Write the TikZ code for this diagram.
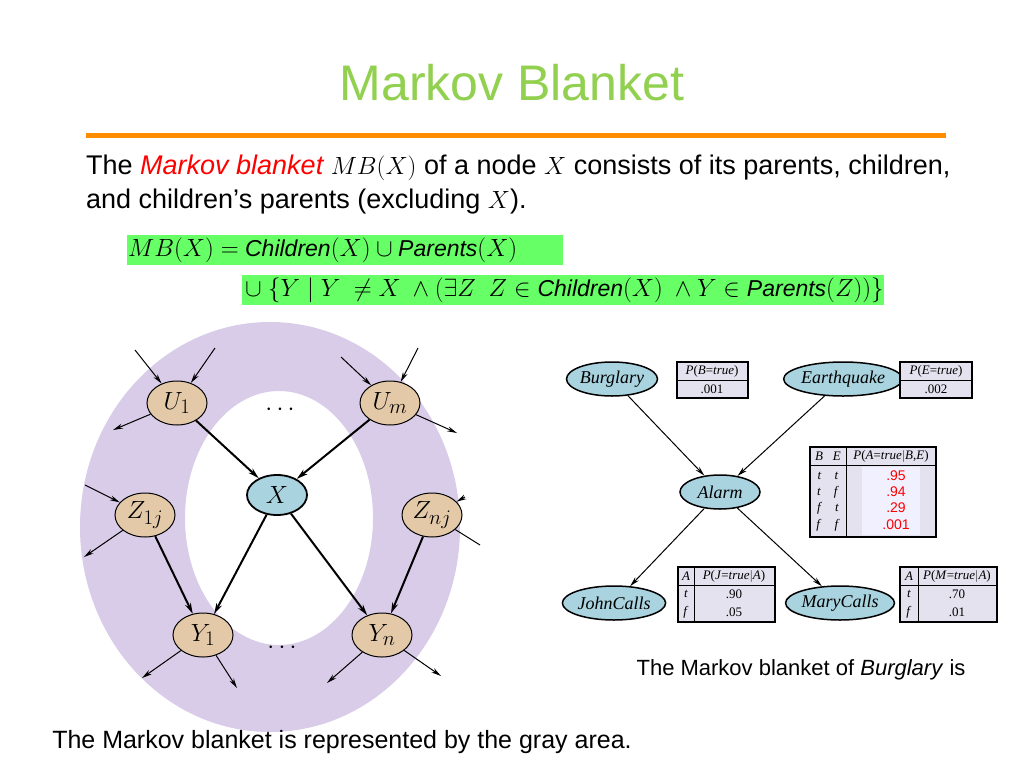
\documentclass[tikz,border=0pt]{standalone}
\usepackage{fontspec}
\setmainfont{Liberation Sans}
\newfontfamily\tnr{Liberation Serif}
\usetikzlibrary{shapes.geometric,arrows.meta}
\definecolor{titlegreen}{HTML}{92D050}
\definecolor{ring}{HTML}{D9CCE8}
\definecolor{tan}{HTML}{E3C9A8}
\definecolor{lblue}{HTML}{A9D3DF}
\definecolor{hl}{HTML}{66FF66}
\definecolor{tabbg}{HTML}{E4E2EE}
\begin{document}
\begin{tikzpicture}[x=1pt,y=-1pt,
  lnode/.style={ellipse,draw,line width=1pt,fill=tan,minimum width=60pt,minimum height=44pt,inner sep=0pt,font=\fontsize{30}{30}\selectfont},
  rnode/.style={ellipse,draw,line width=1.5pt,fill=lblue,minimum width=80pt,minimum height=34pt,inner sep=0pt,font=\tnr\itshape\fontsize{18}{18}\selectfont},
  arr/.style={-{Stealth[length=11pt,width=6pt]},line width=2pt},
  tarr/.style={-{Stealth[length=10pt,width=5pt]},line width=1pt},
  tab/.style={draw,line width=2pt,fill=tabbg},
  tt/.style={font=\tnr\fontsize{13}{13}\selectfont,inner sep=0pt}]
\useasboundingbox (0,0) rectangle (1024,768);
\fill[white] (0,0) rectangle (1024,768);
\node[text=titlegreen,font=\fontsize{50}{50}\selectfont] (title) at (512,83) {Markov Blanket};
\draw[line width=5pt,orange!90!yellow] (86,135) -- (946,135);
\node[anchor=west,font=\fontsize{27}{27}\selectfont,inner sep=0pt] (l1) at (86,168) {The \textcolor{red}{\itshape Markov blanket} $MB(X)$ of a node $X$ consists of its parents, children,};
\node[anchor=west,font=\fontsize{27}{27}\selectfont,inner sep=0pt] (l2) at (86,202) {and children's parents (excluding $X$).};
\fill[hl] (127,235) rectangle (563,265);
\fill[hl] (242,275) rectangle (884,305);
\node[anchor=west,font=\fontsize{23}{23}\selectfont,inner sep=0pt] (f1) at (128,250) {$MB(X) = $ \textit{Children}$(X) \cup{}$\textit{Parents}$(X)$};
\node[anchor=west,font=\fontsize{23}{23}\selectfont,inner sep=0pt] (f2) at (245,290) {$\cup\ \{Y\mid Y\ \neq X\ \wedge (\exists Z\ \ Z\in{}$\textit{Children}$(X)\ \wedge Y\in{}$\textit{Parents}$(Z))\}$};
\fill[ring,even odd rule] (270,527) ellipse [x radius=190,y radius=205] (279,518) ellipse [x radius=94,y radius=127];
\node[lnode] (U1) at (177,403) {$U_1$};
\node[lnode] (Um) at (390,403) {$U_m$};
\node[lnode,fill=lblue,line width=1.8pt,minimum height=40pt] (X) at (277,495) {$X$};
\node[lnode] (Z1) at (145,515) {$Z_{1j}$};
\node[lnode] (Zn) at (432,515) {$Z_{nj}$};
\node[lnode] (Y1) at (203,635) {$Y_1$};
\node[lnode] (Yn) at (382,635) {$Y_n$};
\node[font=\fontsize{24}{24}\selectfont] (d1) at (280,410) {$\cdots$};
\node[font=\fontsize{24}{24}\selectfont] (d2) at (282,648) {$\cdots$};
\draw[arr] (U1) -- (X); \draw[arr] (Um) -- (X);
\draw[arr] (X) -- (Y1); \draw[arr] (X) -- (Yn);
\draw[arr] (Z1) -- (Y1); \draw[arr] (Zn) -- (Yn);
\coordinate (a1) at (135,350); \coordinate (a2) at (215,348);
\coordinate (a3) at (113,430); \coordinate (a4) at (341,357);
\coordinate (a5) at (418,348); \coordinate (a6) at (457,433);
\coordinate (a7) at (85,485); \coordinate (a8) at (84,557);
\coordinate (a9) at (465,497); \coordinate (a10) at (480,545);
\coordinate (a11) at (142,678); \coordinate (a12) at (237,688);
\coordinate (a13) at (327,683); \coordinate (a14) at (441,676);
\draw[tarr] (a1) -- (U1); \draw[tarr] (a2) -- (U1); \draw[tarr] (U1) -- (a3);
\draw[tarr] (a4) -- (Um); \draw[tarr] (a5) -- (Um); \draw[tarr] (Um) -- (a6);
\draw[tarr] (a7) -- (Z1); \draw[tarr] (Z1) -- (a8);
\draw[tarr] (a9) -- (Zn); \draw[line width=1pt] (Zn) -- (a10);
\draw[tarr] (Y1) -- (a11); \draw[tarr] (Y1) -- (a12);
\draw[tarr] (Yn) -- (a13); \draw[tarr] (Yn) -- (a14);
\node[rnode] (B) at (612,379) {Burglary};
\node[rnode,minimum width=92pt] (E) at (843,379) {Earthquake};
\node[rnode] (A) at (720,492) {Alarm};
\node[rnode,minimum width=82pt] (J) at (614,603) {JohnCalls};
\node[rnode,minimum width=84pt] (M) at (840,603) {MaryCalls};
\draw[tarr] (B) -- (A); \draw[tarr] (E) -- (A);
\draw[tarr] (A) -- (J); \draw[tarr] (A) -- (M);
\draw[tab] (677,362) rectangle (748,398); \draw (677,380) -- (748,380);
\node[tt] (tb1) at (712,371) {\textit{P}(\textit{B}=\textit{true})};
\node[tt] (tb2) at (712,389) {.001};
\draw[tab] (900,362) rectangle (972,398); \draw (900,380) -- (972,380);
\node[tt] (te1) at (936,371) {\textit{P}(\textit{E}=\textit{true})};
\node[tt] (te2) at (936,389) {.002};
\draw[tab] (810,447) rectangle (936,537); \draw (810,465) -- (936,465); \draw (846,447) -- (846,537);
\node[tt] (ta0) at (828,456) {\textit{B}\ \ \ \textit{E}};
\node[tt] (ta1) at (891,456) {\textit{P}(\textit{A}=\textit{true}$|$\textit{B},\textit{E})};
\fill[blue!6] (862,467) rectangle (920,535);
\foreach \y/\b/\e/\v in {476/t/t/.95,492/t/f/.94,508/f/t/.29,525/f/f/.001}{
  \node[tt] at (828,\y) {\textit{\b}\ \ \ \ \textit{\e}};
  \node[tt,text=red,font=\fontsize{14}{14}\selectfont] at (896,\y) {\v};}
\draw[tab] (678,567) rectangle (775,622); \draw (678,585) -- (775,585); \draw (694,567) -- (694,622);
\node[tt] (tj0) at (686,576) {\textit{A}};
\node[tt] (tj1) at (734,576) {\textit{P}(\textit{J}=\textit{true}$|$\textit{A})};
\node[tt] at (686,594) {\textit{t}}; \node[tt] at (734,594) {.90};
\node[tt] at (686,612) {\textit{f}}; \node[tt] at (734,612) {.05};
\draw[tab] (900,567) rectangle (997,622); \draw (900,585) -- (997,585); \draw (918,567) -- (918,622);
\node[tt] (tm0) at (909,576) {\textit{A}};
\node[tt] (tm1) at (957,576) {\textit{P}(\textit{M}=\textit{true}$|$\textit{A})};
\node[tt] at (909,594) {\textit{t}}; \node[tt] at (957,594) {.70};
\node[tt] at (909,612) {\textit{f}}; \node[tt] at (957,612) {.01};
\node[font=\fontsize{22}{22}\selectfont] (cap) at (801,670) {The Markov blanket of \textit{Burglary} is};
\node[font=\fontsize{25}{25}\selectfont] (bot) at (342,742) {The Markov blanket is represented by the gray area.};
\end{tikzpicture}
\end{document}
